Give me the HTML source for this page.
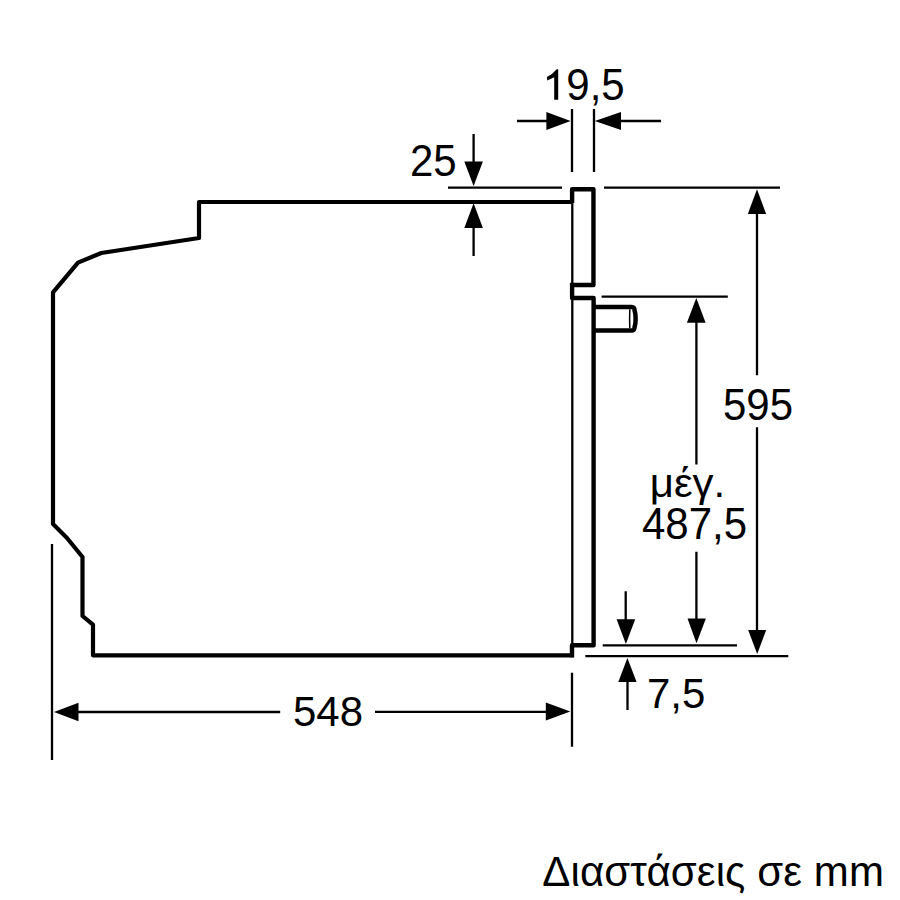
<!DOCTYPE html>
<html>
<head>
<meta charset="utf-8">
<style>
html,body{margin:0;padding:0;background:#fff;}
body{width:900px;height:900px;overflow:hidden;}
svg{display:block;}
text{font-family:"Liberation Sans",sans-serif;fill:#000;}
</style>
</head>
<body>
<svg width="900" height="900" viewBox="0 0 900 900">
<rect x="0" y="0" width="900" height="900" fill="#fff"/>
<!-- thick outlines -->
<g fill="none" stroke="#000" stroke-width="4.2" stroke-linejoin="round" stroke-linecap="butt">
  <path d="M572 202 H199 V238 L101.3 253 L78 262.6 L53 292.4 V524 L67 538 L82.5 557 V616 L93 624.7 V655.3 H574"/>
  <path d="M572.1 203 V189.2 H593.45 V285 H570" stroke-width="4.4"/>
  <path d="M572.1 283 V298 H593.6 V645.3 H572 V657.3" stroke-width="4.4"/>
  <path d="M593.7 307 H631.5 C634.3 307 634.6 308.3 634.6 310.8 C635.9 313.8 635.9 323.7 634.6 326.7 C634.6 329.2 634.3 330.5 631.5 330.5 H593.7" stroke-width="4.5"/>
</g>
<g fill="none" stroke="#000" stroke-width="2.3" stroke-linecap="butt">
  <path d="M572.3 203 V284 M572.3 299 V645"/>
  <path d="M629.8 309.2 Q629.4 318.75 629.8 328.3" stroke-width="1.5"/>
  <!-- 19,5 -->
  <path d="M517 121 H548 M621 121 H661 M572 109 V172 M594 109 V172"/>
  <!-- 25 -->
  <path d="M473.6 134 V163 M448 187.6 H562 M473.6 227 V256"/>
  <!-- 595 -->
  <path d="M604 187.7 H780 M757 212 V375.3 M757 427.3 V631 M585.3 656.2 H788.3"/>
  <!-- 487,5 -->
  <path d="M601.6 296.6 H727.8 M696.4 321 V464.4 M696.4 551.8 V620 M602.7 645.3 H737"/>
  <!-- 7,5 -->
  <path d="M625.7 591.3 V620 M627.5 681 V710"/>
  <!-- 548 -->
  <path d="M52 544 V760 M572 672.7 V746.7 M77 712 H280.2 M375 711.8 H547"/>
</g>
<g fill="#000" stroke="none">
  <!-- 19,5 arrows -->
  <polygon points="546.4,112 570.6,121 546.4,130"/>
  <polygon points="621,112 594.8,121 621,130"/>
  <!-- 25 arrows -->
  <polygon points="464.3,161.6 482.9,161.6 473.6,186"/>
  <polygon points="464.3,228 482.9,228 473.6,203.2"/>
  <!-- 595 arrows -->
  <polygon points="747.8,214 766.1,214 757,189.2"/>
  <polygon points="748.2,630 766.2,630 757.2,654"/>
  <!-- 487,5 arrows -->
  <polygon points="686.9,322.7 705.6,322.7 696.3,298"/>
  <polygon points="687.5,618.6 705.9,618.6 696.5,643.2"/>
  <!-- 7,5 arrows -->
  <polygon points="616.6,619.3 635.2,619.3 625.9,644.1"/>
  <polygon points="618.3,682 636.6,682 627.4,657.9"/>
  <!-- 548 arrows -->
  <polygon points="78.5,702.8 78.5,721.3 54,712.1"/>
  <polygon points="545.8,702.6 545.8,720.6 570.3,711.6"/>
</g>
<g font-size="42">
  <path d="M556.7 69.3 H558.2 V99.8 H554.2 V77.3 L547.3 80.4 L546.9 77.1 Q552.5 74.5 556.7 69.3 Z" fill="#000"/>
  <text transform="translate(566.35,100) scale(1,1.04)">9,5</text>
  <text transform="translate(410,175.8) scale(1,1.04)">25</text>
  <text transform="translate(723,419.6) scale(1,1.04)">595</text>
  <text transform="translate(649.7,496.9) scale(1,0.96)">μέγ.</text>
  <text transform="translate(642,538.6) scale(1,1.04)">487,5</text>
  <text transform="translate(647,708) scale(1,1.03)">7,5</text>
  <text transform="translate(293,726.4) scale(1,1.025)">548</text>
  <text x="542.3" y="885.5" textLength="341.6" lengthAdjust="spacing">Διαστάσεις σε mm</text>
</g>
</svg>
</body>
</html>
